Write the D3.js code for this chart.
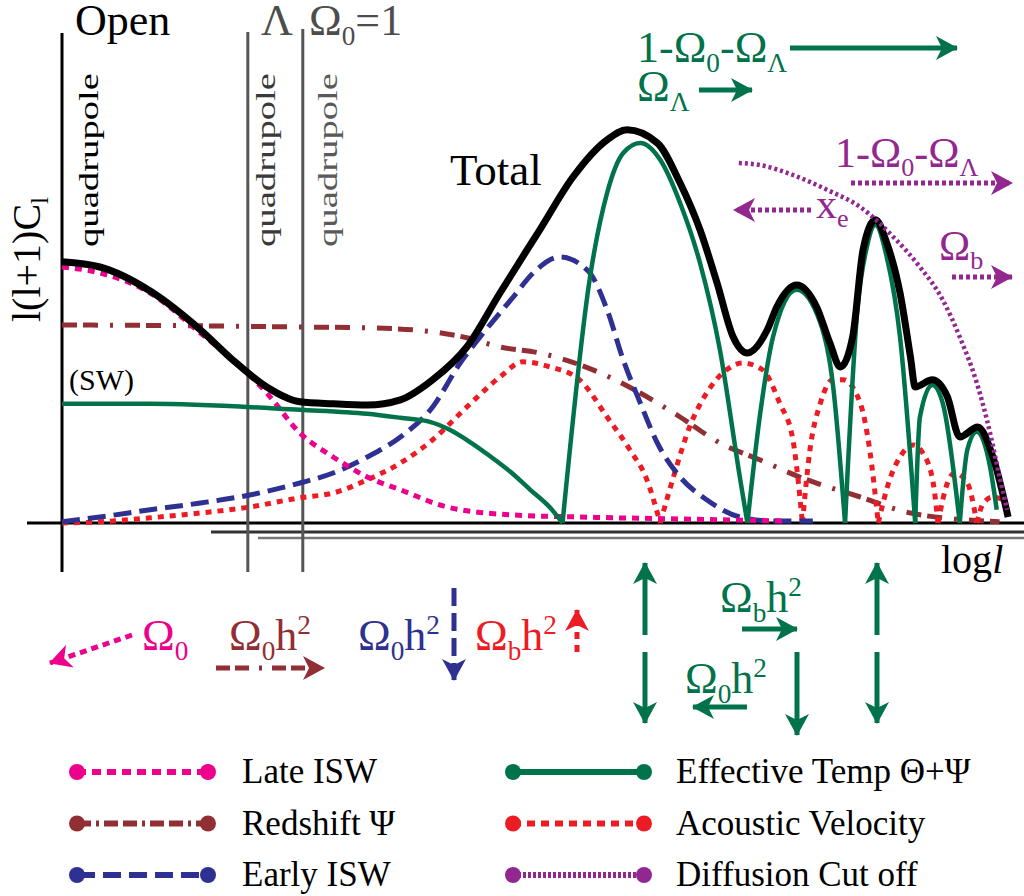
<!DOCTYPE html>
<html>
<head>
<meta charset="utf-8">
<script src="https://cdn.jsdelivr.net/npm/d3@7"></script>
<style>
  body { margin: 0; background: #fff; }
  svg { display: block; font-family: "Liberation Serif", "Times New Roman", serif; }
</style>
</head>
<body>
<svg id="chart" width="1024" height="896"></svg>
<script>
// ---- data (x = log l in arbitrary units 0..100, y = l(l+1)C_l in arbitrary units) ----
const totalCurve = [[0,65.3],[4,64],[9.3,58],[14.6,48.3],[18,40.8],[21.6,34],[25.1,30.3],[28.6,29.8],[32.2,29.5],[35.7,30.8],[39.1,35.8],[42.7,44],[46.2,57.5],[50.4,73.3],[53.9,86.5],[57.5,95.8],[59.6,98.3],[62.8,95],[65.2,85],[67.3,73.3],[69.1,60],[70.8,46.5],[72.3,42.5],[74.4,48.3],[75.4,54],[77.5,59.5],[79.6,54],[81,45],[82.1,39],[83.4,46.5],[84.5,68.3],[85.8,75.8],[87,70],[88.4,57.5],[89.5,41.5],[90,34],[91.8,35.8],[93.4,31.5],[94.7,21.5],[96.6,24],[98.2,16.5],[99.8,1.5]];

// effective temperature: one array per acoustic arch (cusps between them)
const effTemp = [
  [[0,29.8],[9.3,29.8],[25.1,28.3],[32.2,27.3],[35.7,26.3],[38.8,25.3],[40.9,23.3],[43,20.3],[45.1,16.8],[47.3,12.8],[49.4,8.3],[51.5,3.8],[52.8,0]],
  [[52.8,0],[55.7,61.5],[57.5,82.5],[59.2,92.5],[61,95],[63.1,90.8],[65.2,80],[67.3,65],[69.4,43.3],[71.5,11.5],[72.3,0]],
  [[72.3,0],[73.6,26.5],[75,46.5],[77.5,58.3],[80,50],[81.3,35],[82.6,0]],
  [[82.6,0],[83.9,53.3],[84.9,69],[85.8,74.5],[87,66.5],[88.4,46.5],[90,0]],
  [[90,0],[90.5,26.5],[91.8,34.5],[92.9,30],[94.7,0]],
  [[94.7,0],[95.5,18.3],[96.5,22.8],[97.9,14],[98.6,3.3]]
];

const acoustic = [
  [[0,0],[4,0.3],[9.3,1.3],[14.6,2.5],[19.8,4],[25.1,6.3],[28.6,7.5],[32.2,10.8],[35.7,15],[39.1,20.8],[42.7,29],[46.2,36.5],[48.6,40.3],[51.5,39],[54.6,35.8],[57.5,26.5],[59.9,18.3],[61.7,10.8],[63.1,0]],
  [[63.1,0],[64.5,11.5],[66.2,24],[68,32.5],[70.1,38.3],[71.8,40],[73.9,38.3],[75.7,30],[77.1,20.8],[78.1,0]],
  [[78.1,0],[78.9,18.3],[80,30],[81.3,35.8],[82.4,35.8],[84.2,30],[85.2,18.3],[86.1,0]],
  [[86.1,0],[87.3,10.8],[88.4,16.5],[89.8,19.5],[90.8,17.5],[91.9,10],[92.4,0]],
  [[92.4,0],[93.4,10],[94.2,12.5],[95.5,10],[96.5,0]],
  [[96.5,0],[97.2,5],[98.2,6.5],[99.3,5.8]]
];

const lateISW = [[0,64],[4,62.5],[9.3,57.5],[14.6,47.5],[18,40.8],[21.6,32.5],[25.1,22.5],[28.6,16.5],[32.2,11.5],[35.7,8.3],[40.6,4],[47.6,2],[54.6,1.5],[65.2,1],[76.3,0.5]];

const earlyISW = [[0,0.3],[4,1.5],[9.3,3.3],[14.6,5],[19.8,7],[25.1,10],[28.6,12.5],[32.2,16.5],[35.7,21.5],[39.1,29],[42,40],[44.1,46.5],[47.6,56.5],[49.7,62.5],[52.5,66.5],[55.5,63],[57.5,53.3],[59.2,40.8],[61,30],[62.8,20],[65.2,11.5],[68,5.8],[71.5,1.5],[75,0.5],[79.2,0.5]];

const redshift = [[0,49.5],[14.6,49.3],[25.1,49],[32.2,48.8],[39.1,47.8],[42.7,46.3],[46.2,44],[50.4,42.5],[56.8,37.5],[61,32.5],[65.2,26.5],[69.4,20],[73.6,15.8],[77.8,11.5],[84.2,6.5],[89.5,2.5],[98.9,0.3]];

const diffusion = [[71.4,90],[73.6,89.5],[77.1,87],[80.7,83.3],[84.2,79],[87.7,71.5],[90.5,64],[92.9,55.8],[94.7,46.5],[96.5,35],[97.9,22.5],[98.9,11.5],[99.7,3.3]];

// quadrupole positions for the three cosmologies
const quadNames = ["Open", "Λ", "Ω₀=1"];
const quadX = [0, 19.6, 25.4];

const legendLabels = ["Late ISW", "Redshift Ψ", "Early ISW", "Effective Temp Θ+Ψ", "Acoustic Velocity", "Diffusion Cut off"];

// ---- styles ----
const C = {
  green: "#00734a", magenta: "#ec008c", brown: "#922f35", navy: "#2e3192",
  red: "#ed1c24", purple: "#92278f", gray: "#555", black: "#000"
};
const styles = {
  late:  { color: C.magenta, width: 5, dash: "7,6" },
  red:   { color: C.brown, width: 5, dash: "15,6,15,12,3,12" },
  early: { color: C.navy, width: 5, dash: "18,8" },
  eff:   { color: C.green, width: 4.5, dash: null },
  acou:  { color: C.red, width: 5, dash: "6,6" },
  diff:  { color: C.purple, width: 4.5, dash: "3,3" }
};

const svg = d3.select("#chart");

const x = d3.scaleLinear().domain([0, 100]).range([62, 1010]);
const y = d3.scaleLinear().domain([0, 100]).range([523, 123]);

const line = d3.line().x(d => x(d[0])).y(d => y(d[1])).curve(d3.curveMonotoneX);

// arrow heads
const defs = svg.append("defs");
Object.entries(C).forEach(([k, col]) => {
  defs.append("marker")
    .attr("id", "head-" + k)
    .attr("viewBox", "0 -12 22 24")
    .attr("refX", 21).attr("refY", 0)
    .attr("markerWidth", 22).attr("markerHeight", 24)
    .attr("markerUnits", "userSpaceOnUse")
    .attr("orient", "auto")
    .append("path")
    .attr("d", "M0,-12L22,0L0,12L6,0Z")
    .attr("fill", col);
});

// ---- frame ----
svg.append("line").attr("x1", 27).attr("x2", 1024).attr("y1", y(0)).attr("y2", y(0))
  .attr("stroke", "#000").attr("stroke-width", 3);
svg.append("line").attr("x1", 211).attr("x2", 1024).attr("y1", 532).attr("y2", 532)
  .attr("stroke", "#333").attr("stroke-width", 3);
svg.append("line").attr("x1", 258).attr("x2", 1024).attr("y1", 538).attr("y2", 538)
  .attr("stroke", "#777").attr("stroke-width", 2.5);

quadX.forEach((q, i) => {
  svg.append("line")
    .attr("x1", x(q)).attr("x2", x(q))
    .attr("y1", [33, 32, 29][i]).attr("y2", 572)
    .attr("stroke", i === 0 ? "#000" : C.gray)
    .attr("stroke-width", 3);
});

// rich text helper: parts = [[text, "sub"|"sup"|undefined, italic?]]
function rich(g, px, py, parts, color, size) {
  const t = g.append("text").attr("x", px).attr("y", py)
    .attr("fill", color).attr("font-size", size);
  let shift = 0;
  parts.forEach(([s, kind, ital]) => {
    const target = kind === "sub" ? size * 0.22 : kind === "sup" ? -size * 0.36 : 0;
    const ts = t.append("tspan").attr("dy", target - shift)
      .attr("font-size", kind ? size * 0.62 : size).text(s);
    if (ital) ts.attr("font-style", "italic");
    shift = target;
  });
  return t;
}

// top labels of cosmologies
rich(svg, 75, 35, [["Open"]], "#000", 44);
rich(svg, 261, 35, [["Λ"]], "#4d4d4d", 44);
rich(svg, 309, 35, [["Ω"], ["0", "sub"], ["=1"]], "#4d4d4d", 44);

[[98, "#000"], [275, "#3a3a3a"], [337, "#5a5a5a"]].forEach(([bx, col]) => {
  svg.append("text")
    .attr("transform", `translate(${bx},247) rotate(-90)`)
    .attr("font-size", 28).attr("fill", col)
    .attr("textLength", 174).attr("lengthAdjust", "spacingAndGlyphs")
    .text("quadrupole");
});

// y axis label
const yl = svg.append("text")
  .attr("transform", "translate(40,322) rotate(-90)")
  .attr("font-size", 40).attr("fill", "#000");
yl.append("tspan").text("l(l+1)C");
yl.append("tspan").attr("dy", 8).attr("font-size", 25).text("l");

rich(svg, 941, 573, [["log"], ["l", undefined, true]], "#000", 40);
rich(svg, 69, 390, [["(SW)"]], "#000", 30);
rich(svg, 450, 185, [["Total"]], "#000", 45);

// ---- curves ----
const curves = svg.append("g").attr("fill", "none");

function drawPath(data, st) {
  curves.append("path")
    .attr("d", line(data))
    .attr("stroke", st.color)
    .attr("stroke-width", st.width)
    .attr("stroke-dasharray", st.dash);
}

drawPath(redshift, styles.red);
acoustic.forEach(seg => drawPath(seg, styles.acou));
drawPath(earlyISW, styles.early);
drawPath(lateISW, styles.late);
effTemp.forEach(seg => drawPath(seg, styles.eff));
drawPath(totalCurve, { color: "#000", width: 7, dash: null });
drawPath(diffusion, styles.diff);

// ---- annotation arrows ----
function arrow(x1, y1, x2, y2, key, dash, width) {
  svg.append("line")
    .attr("x1", x1).attr("y1", y1).attr("x2", x2).attr("y2", y2)
    .attr("stroke", C[key]).attr("stroke-width", width || 5)
    .attr("stroke-dasharray", dash || null)
    .attr("marker-end", `url(#head-${key})`);
}

// green (acoustic peak position) labels
rich(svg, 637, 62, [["1-Ω"], ["0", "sub"], ["-Ω"], ["Λ", "sub"]], C.green, 44);
arrow(790, 48, 957, 48, "green");
rich(svg, 637, 101, [["Ω"], ["Λ", "sub"]], C.green, 44);
arrow(699, 90, 752, 90, "green");

// diffusion labels
rich(svg, 835, 167, [["1-Ω"], ["0", "sub"], ["-Ω"], ["Λ", "sub"]], C.purple, 42);
arrow(851, 183, 1012, 183, "purple", "4,3");
arrow(811, 210, 734, 210, "purple", "4,3");
rich(svg, 816, 218, [["x"], ["e", "sub"]], C.purple, 42);
rich(svg, 939, 260, [["Ω"], ["b", "sub"]], C.purple, 42);
arrow(952, 277, 1012, 277, "purple", "4,3");

// lower-left parameter dependences
rich(svg, 142, 650, [["Ω"], ["0", "sub"]], C.magenta, 44);
arrow(132, 635, 50, 663, "magenta", "7,5");
rich(svg, 229, 650, [["Ω"], ["0", "sub"], ["h"], ["2", "sup"]], C.brown, 44);
arrow(216, 668, 324, 668, "brown", "14,5,14,10,3,10");
rich(svg, 358, 650, [["Ω"], ["0", "sub"], ["h"], ["2", "sup"]], C.navy, 44);
arrow(454, 588, 454, 680, "navy", "18,7");
rich(svg, 475, 650, [["Ω"], ["b", "sub"], ["h"], ["2", "sup"]], C.red, 44);
arrow(577, 652, 577, 610, "red", "7,6");

// peak height / position arrows
rich(svg, 720, 612, [["Ω"], ["b", "sub"], ["h"], ["2", "sup"]], C.green, 44);
arrow(742, 629, 797, 629, "green");
rich(svg, 685, 693, [["Ω"], ["0", "sub"], ["h"], ["2", "sup"]], C.green, 44);
arrow(747, 707, 693, 707, "green");
arrow(645, 635, 645, 563, "green");
arrow(645, 652, 645, 723, "green");
arrow(797, 652, 797, 735, "green");
arrow(877, 635, 877, 563, "green");
arrow(877, 652, 877, 723, "green");

// ---- legend ----
const legendStyles = [
  { color: C.magenta, dash: "9,6", width: 6 },
  { color: C.brown, dash: "14,5,3,5,14,5", width: 6 },
  { color: C.navy, dash: "18,8", width: 6 },
  { color: C.green, dash: null, width: 6 },
  { color: C.red, dash: "8,6", width: 6 },
  { color: C.purple, dash: "3,2", width: 6 }
];
const legend = svg.append("g");
legendLabels.forEach((lab, i) => {
  const col = Math.floor(i / 3), row = i % 3;
  const x0 = col === 0 ? 77 : 513, x1 = x0 + 131;
  const cy = 772 + row * 51.5;
  const st = legendStyles[i];
  legend.append("line")
    .attr("x1", x0).attr("x2", x1).attr("y1", cy).attr("y2", cy)
    .attr("stroke", st.color).attr("stroke-width", st.width)
    .attr("stroke-dasharray", st.dash);
  [x0, x1].forEach(cx => legend.append("circle")
    .attr("cx", cx).attr("cy", cy).attr("r", 8).attr("fill", st.color));
  legend.append("text")
    .attr("x", col === 0 ? 242 : 676).attr("y", cy + 11)
    .attr("font-size", 35).attr("fill", "#000")
    .text(lab);
});
</script>
</body>
</html>
